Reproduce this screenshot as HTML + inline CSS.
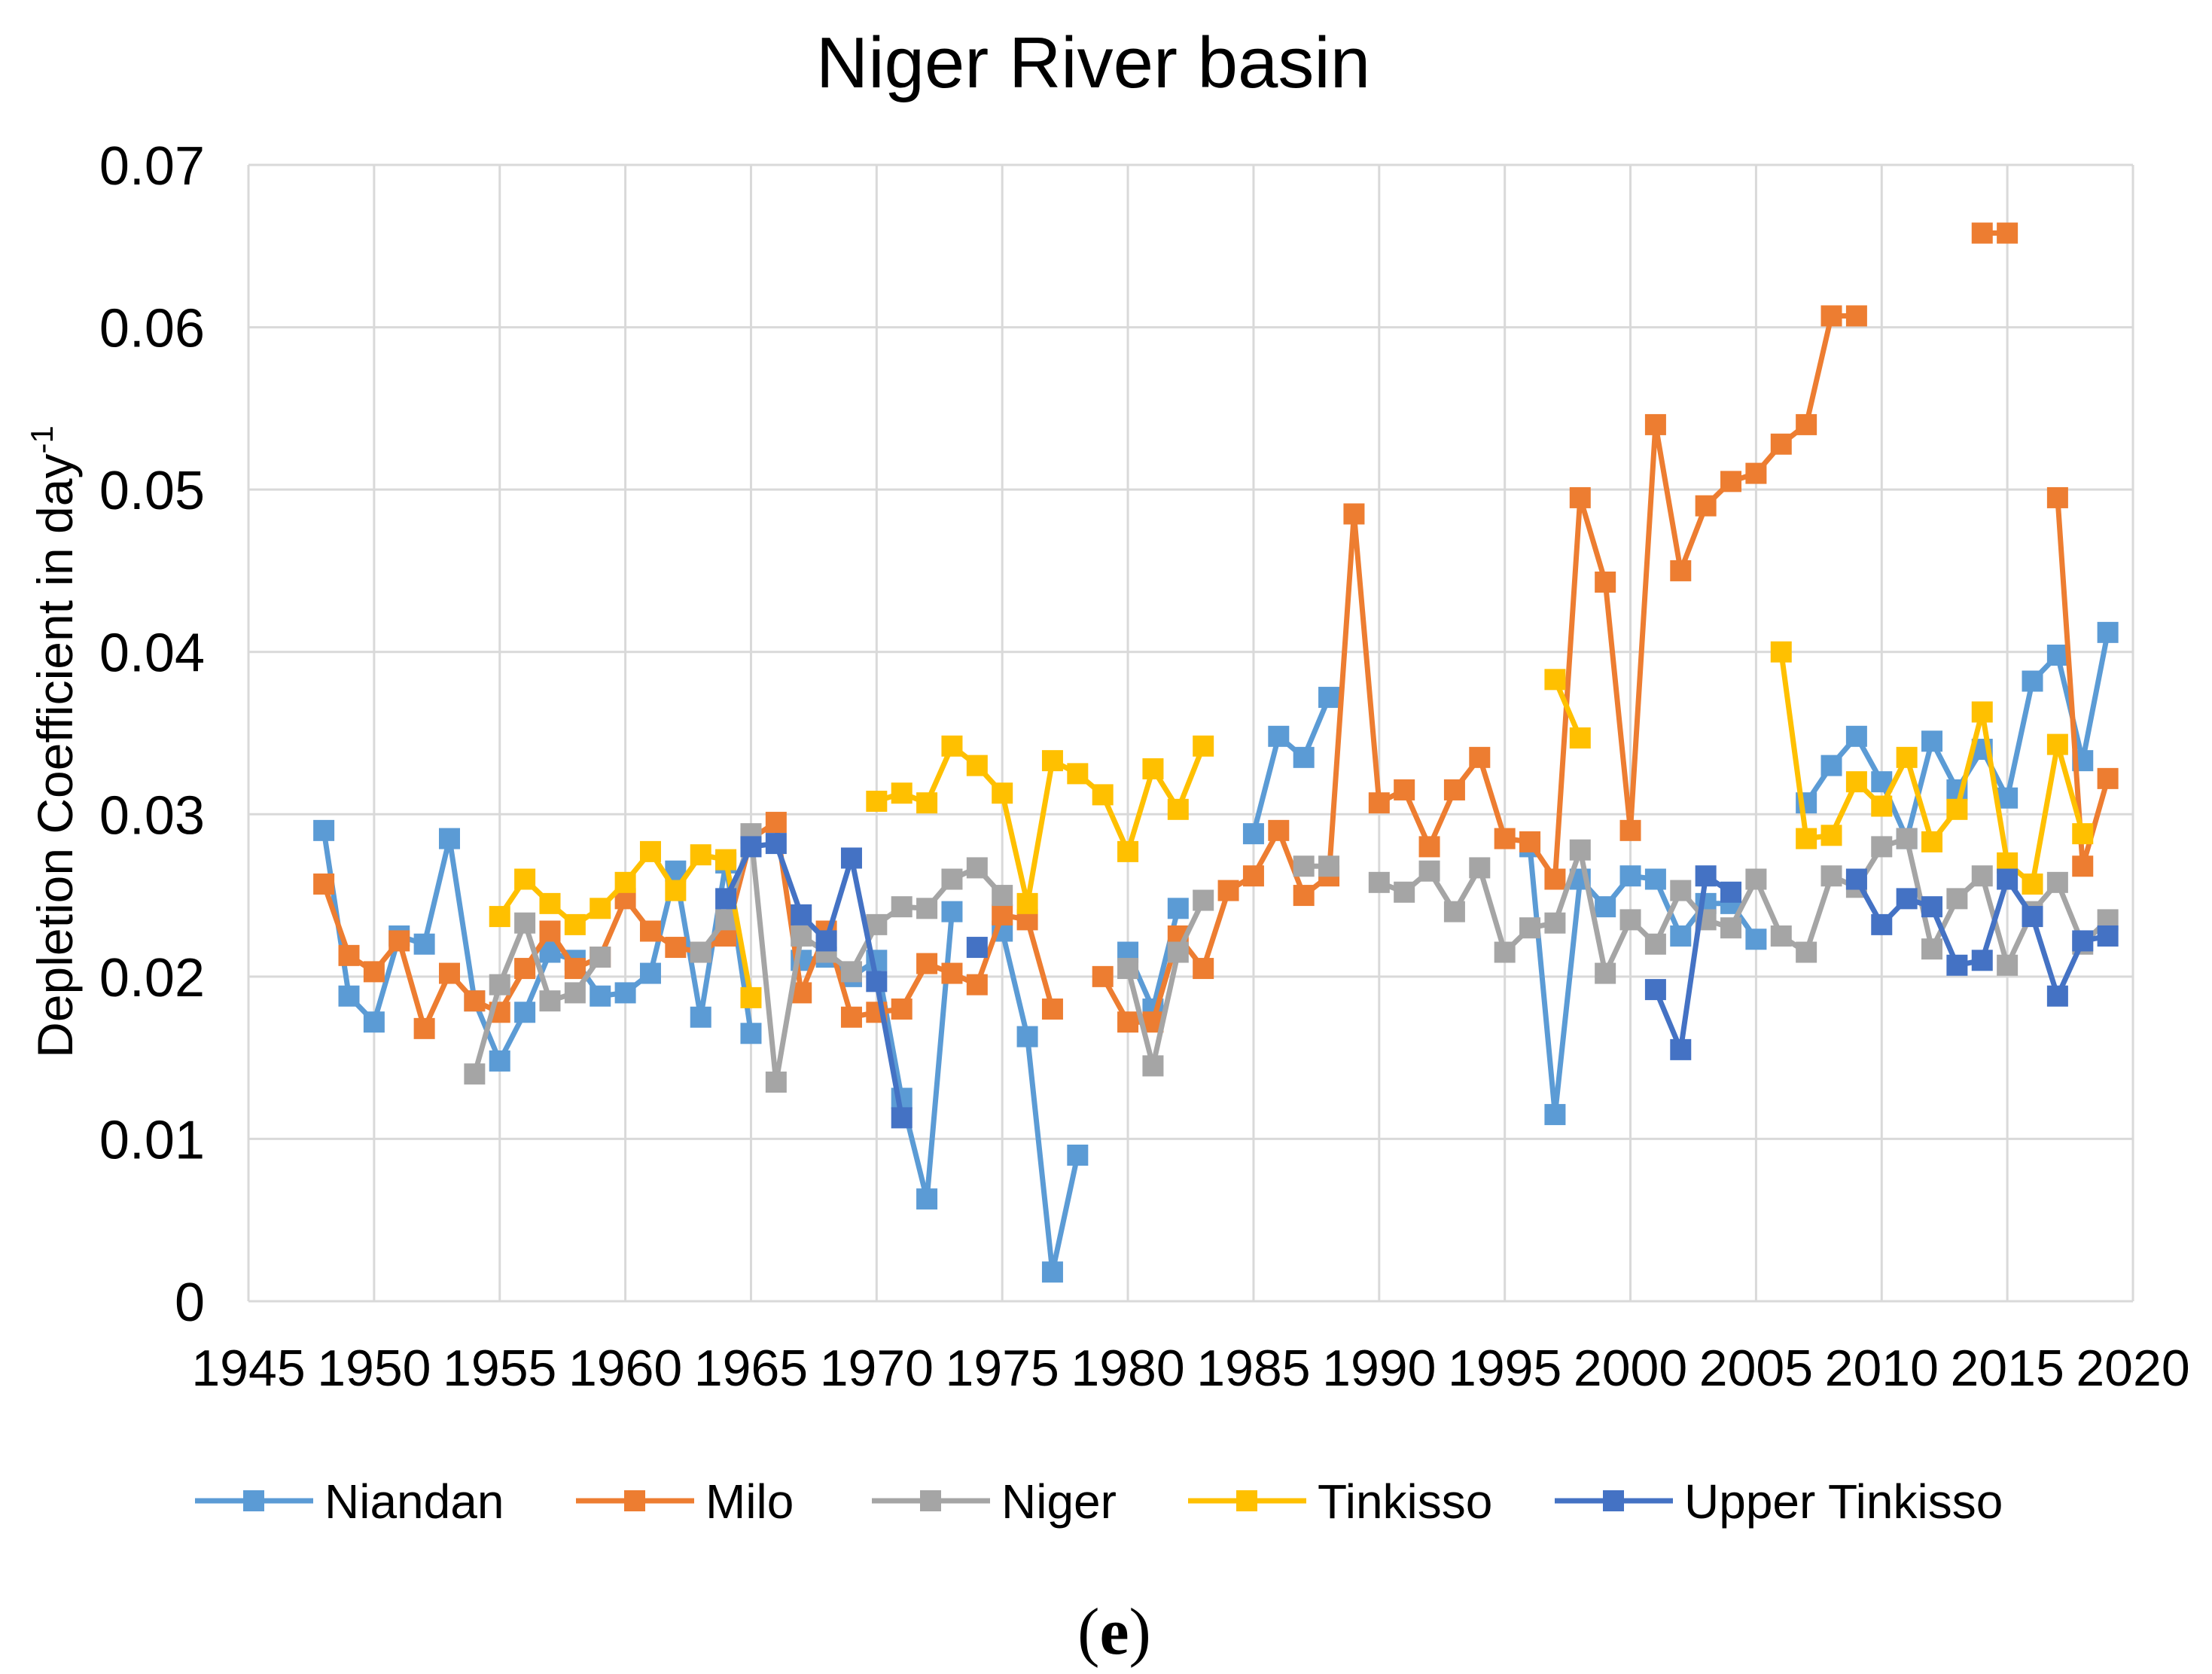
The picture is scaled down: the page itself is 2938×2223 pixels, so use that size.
<!DOCTYPE html>
<html><head><meta charset="utf-8"><style>
html,body{margin:0;padding:0;background:#fff;}
svg{display:block;font-family:"Liberation Sans",sans-serif;}
</style></head><body>
<svg id="chart" width="2938" height="2223" viewBox="0 0 2938 2223" xmlns="http://www.w3.org/2000/svg">
<text x="1452" y="116" font-size="96" text-anchor="middle" fill="#000">Niger River basin</text>
<g id="grid"></g>
<g id="yticks"></g>
<g id="xticks"></g>
<text transform="translate(96,985) rotate(-90)" font-size="66" text-anchor="middle" fill="#000">Depletion Coefficient in day<tspan dy="-26" font-size="42">-1</tspan></text>
<g id="series"></g>
<g id="legend"></g>
<text x="1480" y="2196" font-size="88" text-anchor="middle" font-family="Liberation Serif, serif" fill="#000">(<tspan font-weight="bold">e</tspan>)</text>
</svg>
<script>
const years = [];
for (let y = 1948; y <= 2019; y++) years.push(y);
const seriesNames = ["Niandan","Milo","Niger","Tinkisso","Upper Tinkisso"];
const seriesColors = ["#5B9BD5","#ED7D31","#A5A5A5","#FFC000","#4472C4"];
const yTicks = [0,0.01,0.02,0.03,0.04,0.05,0.06,0.07];
const yTickLabels = ["0","0.01","0.02","0.03","0.04","0.05","0.06","0.07"];
const xTicks = [1945,1950,1955,1960,1965,1970,1975,1980,1985,1990,1995,2000,2005,2010,2015,2020];
const n = null;
const niandan = [.029,.0188,.0172,.0225,.022,.0285,.0185,.0148,.0178,.0215,.021,.0188,.019,.0202,.0265,.0175,.027,.0165,n,.021,.0212,.020,.021,.0125,.0063,.024,n,.0228,.0163,.0018,.009,n,.0215,.018,.0242,n,n,.0288,.0348,.0335,.0372,n,n,n,n,n,n,n,.028,.0115,.026,.0243,.0262,.026,.0225,.0245,.0245,.0223,n,.0307,.033,.0348,.032,.0285,.0345,.0315,.034,.031,.0382,.0398,.0333,.0412];
const milo = [.0257,.0213,.0203,.0222,.0168,.0202,.0185,.0178,.0205,.0228,.0205,.0212,.0248,.0228,.0218,.0215,.0225,.0285,.0295,.019,.0228,.0175,.0178,.018,.0208,.0202,.0195,.0238,.0235,.018,n,.020,.0172,.0172,.0225,.0205,.0253,.0262,.029,.025,.0262,.0485,.0307,.0315,.028,.0315,.0335,.0285,.0283,.026,.0495,.0443,.029,.054,.045,.049,.0505,.051,.0528,.054,.0607,.0607,n,n,n,n,.0658,.0658,n,.0495,.0268,.0322];
const niger = [n,n,n,n,n,n,.014,.0195,.0233,.0185,.019,.0212,n,n,n,.0215,.0235,.0288,.0135,.0225,.0215,.0203,.0232,.0243,.0242,.026,.0267,.025,n,n,n,n,.0205,.0145,.0215,.0247,n,n,n,.0268,.0268,n,.0258,.0252,.0265,.024,.0267,.0215,.023,.0233,.0278,.0202,.0235,.022,.0253,.0235,.023,.026,.0225,.0215,.0262,.0255,.028,.0285,.0217,.0248,.0262,.0207,.024,.0258,.022,.0235];
const tinkisso = [n,n,n,n,n,n,n,.0237,.026,.0245,.0232,.0242,.0258,.0277,.0253,.0275,.0272,.0187,n,n,n,n,.0308,.0313,.0307,.0342,.033,.0313,.0245,.0333,.0325,.0312,.0277,.0328,.0303,.0342,n,n,n,n,n,n,n,n,n,n,n,n,n,.0383,.0347,n,n,n,n,n,n,n,.04,.0285,.0287,.032,.0305,.0335,.0283,.0303,.0363,.027,.0257,.0343,.0288,n];
const upperTinkisso = [n,n,n,n,n,n,n,n,n,n,n,n,n,n,n,n,.0248,.028,.0282,.0238,.0222,.0273,.0197,.0113,n,n,.0218,n,n,n,n,n,n,n,n,n,n,n,n,n,n,n,n,n,n,n,n,n,n,n,n,n,n,.0192,.0155,.0262,.0252,n,n,n,n,.026,.0232,.0248,.0243,.0207,.021,.026,.0237,.0188,.0222,.0225];
const allSeries = [niandan,milo,niger,tinkisso,upperTinkisso];

const NS = "http://www.w3.org/2000/svg";
const X0=330, X1=2833, Y0=1728, Y1=219;
const xs = yr => X0 + (yr-1945)/(2020-1945)*(X1-X0);
const ys = v => Y0 - v/0.07*(Y0-Y1);
function mk(tag, attrs, parent){const e=document.createElementNS(NS,tag);for(const k in attrs)e.setAttribute(k,attrs[k]);parent.appendChild(e);return e;}

const grid=document.getElementById('grid');
yTicks.forEach((t,i)=>{
  const l=mk('line',{x1:X0,x2:X1,y1:ys(t),y2:ys(t),stroke:'#d9d9d9','stroke-width':3},grid);
  
  
  const tx=mk('text',{x:272,y:ys(t)+26,'font-size':72,'text-anchor':'end',fill:'#000'},document.getElementById('yticks'));
  tx.textContent=yTickLabels[i];
  
  
});
xTicks.forEach(t=>{
  const l=mk('line',{x1:xs(t),x2:xs(t),y1:Y1,y2:Y0,stroke:'#d9d9d9','stroke-width':3},grid);
  
  
  const tx=mk('text',{x:xs(t),y:1840,'font-size':68,'text-anchor':'middle',fill:'#000'},document.getElementById('xticks'));
  tx.textContent=String(t);
  
  
});

const sg=document.getElementById('series');
allSeries.forEach((vals,si)=>{
  const g=mk('g',{},sg);
  
  
  let d='', pen=false;
  vals.forEach((v,i)=>{
    if(v===null){pen=false;return;}
    d+=(pen?'L':'M')+xs(years[i]).toFixed(1)+' '+ys(v).toFixed(1)+' ';
    pen=true;
  });
  const p=mk('path',{d:d,fill:'none',stroke:seriesColors[si],'stroke-width':7,'stroke-linejoin':'round'},g);
  
  
  vals.forEach((v,i)=>{
    if(v===null)return;
    const r=mk('rect',{x:xs(years[i])-14,y:ys(v)-14,width:28,height:28,fill:seriesColors[si]},g);
    
    
  });
});

const lg=document.getElementById('legend');
const legX=[259,765,1158,1578,2065];
seriesNames.forEach((nm,i)=>{
  const g=mk('g',{},lg);
  
  
  mk('line',{x1:legX[i],x2:legX[i]+157,y1:1993,y2:1993,stroke:seriesColors[i],'stroke-width':7},g);
  mk('rect',{x:legX[i]+78-14,y:1979,width:28,height:28,fill:seriesColors[i]},g);
  const t=mk('text',{x:legX[i]+172,y:2016,'font-size':64,fill:'#000'},g);
  t.textContent=nm;
});
</script>
</body></html>
